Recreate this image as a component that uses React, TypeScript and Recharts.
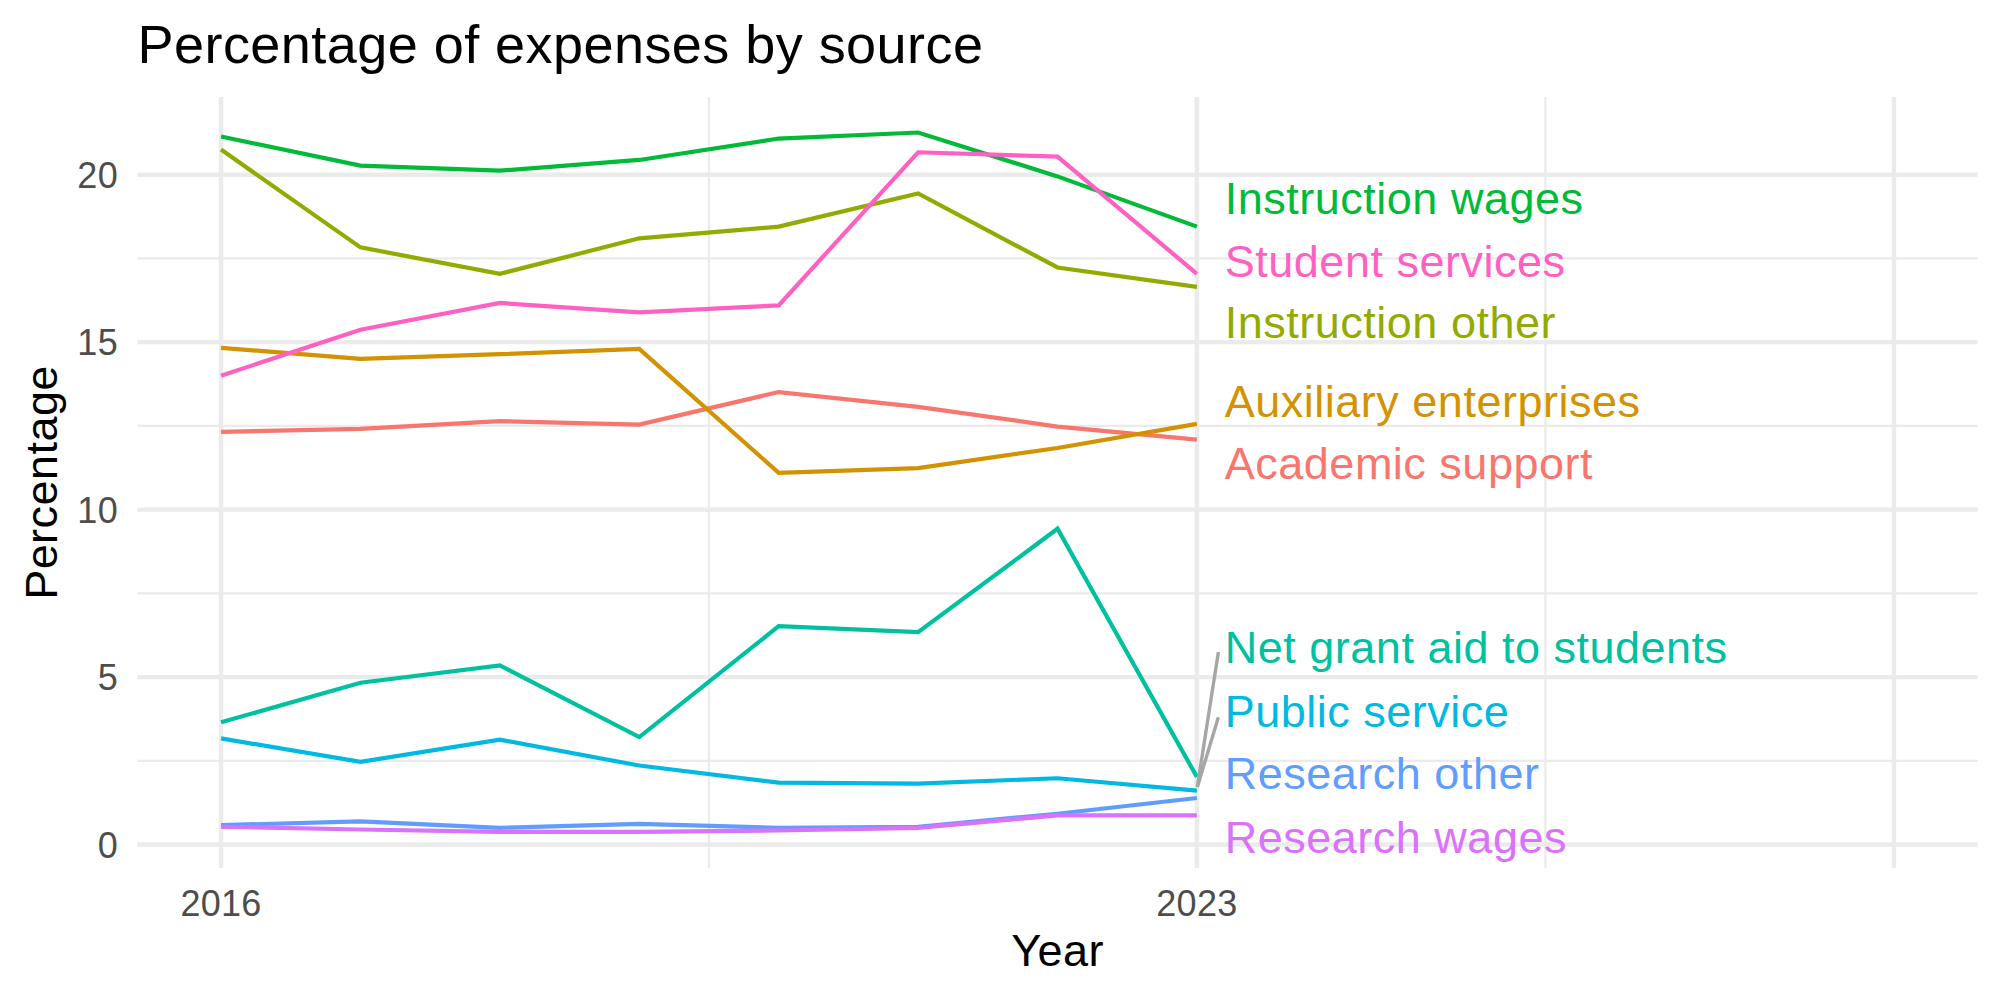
import React from 'react';
import { ComposedChart, Line, XAxis, YAxis, ReferenceLine, ReferenceDot } from 'recharts';

// ---- data ----
const years = [2016, 2017, 2018, 2019, 2020, 2021, 2022, 2023];
const academicSupport = [12.32, 12.41, 12.64, 12.54, 13.51, 13.07, 12.48, 12.09];
const auxiliaryEnterprises = [14.83, 14.5, 14.64, 14.8, 11.1, 11.24, 11.84, 12.56];
const instructionOther = [20.75, 17.83, 17.04, 18.1, 18.45, 19.44, 17.23, 16.65];
const instructionWages = [21.14, 20.27, 20.12, 20.44, 21.08, 21.26, 19.95, 18.45];
const netGrantAid = [3.65, 4.83, 5.35, 3.21, 6.52, 6.34, 9.43, 2.02];
const publicService = [3.17, 2.47, 3.13, 2.36, 1.85, 1.82, 1.98, 1.61];
const researchOther = [0.58, 0.69, 0.5, 0.62, 0.5, 0.53, 0.92, 1.39];
const researchWages = [0.53, 0.45, 0.38, 0.38, 0.42, 0.5, 0.87, 0.87];
const studentServices = [14.0, 15.37, 16.17, 15.89, 16.1, 20.67, 20.54, 17.04];

const seriesNames = [
  'Academic support',
  'Auxiliary enterprises',
  'Instruction other',
  'Instruction wages',
  'Net grant aid to students',
  'Public service',
  'Research other',
  'Research wages',
  'Student services',
];
const seriesValues = [
  academicSupport,
  auxiliaryEnterprises,
  instructionOther,
  instructionWages,
  netGrantAid,
  publicService,
  researchOther,
  researchWages,
  studentServices,
];
const seriesColors = [
  '#F8766D',
  '#D39200',
  '#93AA00',
  '#00BA38',
  '#00C19F',
  '#00B9E3',
  '#619CFF',
  '#DB72FB',
  '#FF61C3',
];

// repelled label positions (data units, text baseline)
const labelX = 2023.2;
const labelY = [10.91, 12.76, 15.11, 18.82, 5.42, 3.52, 1.65, -0.24, 16.96];

// tick labels / grid
const xTicks = [2016, 2023];
const xMajorGrid = [2016, 2023, 2028];
const xMinorGrid = [2019.5, 2025.5];
const yTicks = [0, 5, 10, 15, 20];
const yMinorGrid = [2.5, 7.5, 12.5, 17.5];

// build table for recharts
const keys = seriesNames.map((_, i) => `s${i}`);
const table = years.map((year, j) => {
  const row: Record<string, number> = { year };
  seriesValues.forEach((vals, i) => {
    row[keys[i]] = vals[j];
  });
  return row;
});

const FONT = '"Liberation Sans", Arial, Helvetica, sans-serif';
const W = 2000;
const H = 1000;
const PLOT_LEFT = 137.4;
const PLOT_RIGHT = 22.4;
const PLOT_TOP = 97;
const PLOT_BOTTOM = 868;

const XTick = (props: any) => (
  <text
    x={props.x}
    y={PLOT_BOTTOM + 47.7}
    textAnchor="middle"
    fontSize={36}
    fill="#4D4D4D"
    fontFamily={FONT}
    letterSpacing={0.3}
  >
    {props.payload.value}
  </text>
);

const YTick = (props: any) => (
  <text
    x={118}
    y={props.y}
    dy="0.36em"
    textAnchor="end"
    fontSize={36}
    fill="#4D4D4D"
    fontFamily={FONT}
    letterSpacing={0.3}
  >
    {props.payload.value}
  </text>
);

export default function App() {
  return (
    <div style={{ position: 'absolute', left: 0, top: 0, width: W, height: H, background: '#fff' }}>
      <ComposedChart
        width={W}
        height={H}
        data={table}
        margin={{ top: PLOT_TOP, right: PLOT_RIGHT, bottom: H - PLOT_BOTTOM - 60, left: PLOT_LEFT - 60 }}
      >
        <XAxis
          dataKey="year"
          type="number"
          domain={[2015.4, 2028.6]}
          ticks={xTicks}
          allowDataOverflow
          axisLine={false}
          tickLine={false}
          height={60}
          tick={<XTick />}
        />
        <YAxis
          type="number"
          domain={[-0.7, 22.32]}
          ticks={yTicks}
          allowDataOverflow
          axisLine={false}
          tickLine={false}
          width={60}
          tick={<YTick />}
        />
        {yMinorGrid.map((v) => (
          <ReferenceLine key={`ym${v}`} y={v} stroke="#EBEBEB" strokeWidth={2.2} />
        ))}
        {xMinorGrid.map((v) => (
          <ReferenceLine key={`xm${v}`} x={v} stroke="#EBEBEB" strokeWidth={2.2} />
        ))}
        {yTicks.map((v) => (
          <ReferenceLine key={`yM${v}`} y={v} stroke="#EBEBEB" strokeWidth={4.4} />
        ))}
        {xMajorGrid.map((v) => (
          <ReferenceLine key={`xM${v}`} x={v} stroke="#EBEBEB" strokeWidth={4.4} />
        ))}
        {keys.map((k, i) => (
          <Line
            key={k}
            dataKey={k}
            name={seriesNames[i]}
            stroke={seriesColors[i]}
            strokeWidth={4.2}
            dot={false}
            activeDot={false}
            type="linear"
            isAnimationActive={false}
          />
        ))}
        <ReferenceLine
          segment={[
            { x: 2023.003, y: 1.72 },
            { x: 2023.154, y: 5.75 },
          ]}
          stroke="#A6A6A6"
          strokeWidth={3.4}
          ifOverflow="visible"
        />
        <ReferenceLine
          segment={[
            { x: 2023.003, y: 1.72 },
            { x: 2023.154, y: 3.8 },
          ]}
          stroke="#A6A6A6"
          strokeWidth={3.4}
          ifOverflow="visible"
        />
        {seriesNames.map((name, i) => (
          <ReferenceDot
            key={`lab${i}`}
            x={labelX}
            y={labelY[i]}
            r={1}
            ifOverflow="visible"
            shape={(p: any) => (
              <text
                x={p.cx}
                y={p.cy}
                fontSize={45}
                fill={seriesColors[i]}
                fontFamily={FONT}
                textAnchor="start"
                letterSpacing={0.5}
              >
                {name}
              </text>
            )}
          />
        ))}
      </ComposedChart>
      <svg
        width={W}
        height={H}
        style={{ position: 'absolute', left: 0, top: 0, pointerEvents: 'none' }}
      >
        <text x={137.5} y={63} fontSize={54} fill="#000" fontFamily={FONT} letterSpacing={0.45}>
          Percentage of expenses by source
        </text>
        <text
          x={(PLOT_LEFT + (W - PLOT_RIGHT)) / 2}
          y={966}
          fontSize={45}
          fill="#000"
          fontFamily={FONT}
          textAnchor="middle"
          letterSpacing={0.45}
        >
          Year
        </text>
        <text
          x={0}
          y={0}
          transform={`translate(56.7, ${(PLOT_TOP + PLOT_BOTTOM) / 2}) rotate(-90)`}
          fontSize={45}
          fill="#000"
          fontFamily={FONT}
          textAnchor="middle"
          letterSpacing={0.45}
        >
          Percentage
        </text>
      </svg>
    </div>
  );
}
